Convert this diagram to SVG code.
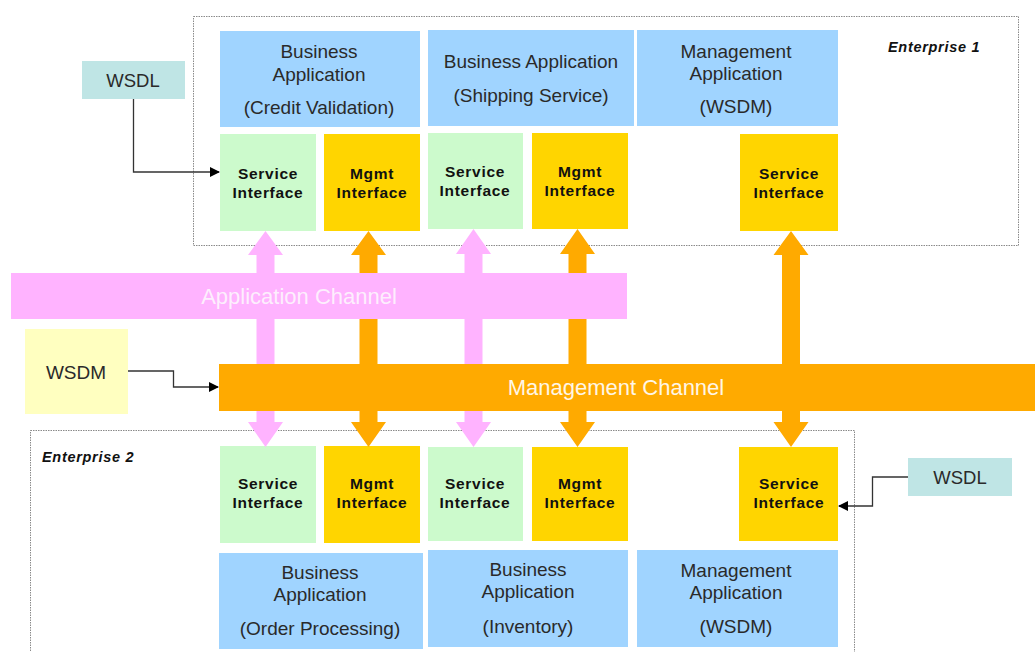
<svg xmlns="http://www.w3.org/2000/svg" width="1035" height="652" viewBox="0 0 1035 652">
<style>
.ent{fill:#fff;stroke:#8a8a8a;stroke-width:1;stroke-dasharray:1.5,1}
.app{fill:#a0d4ff}
.si{fill:#ccfacc}
.mi{fill:#ffd500}
.wsdl{fill:#bfe5e5}
.wsdm{fill:#ffffc0}
.t{font-family:"Liberation Sans",Arial,sans-serif;font-size:19px;fill:#2a2a2a;text-anchor:middle}
.b{font-family:"Liberation Sans",Arial,sans-serif;font-size:15.5px;font-weight:bold;fill:#111;text-anchor:middle;letter-spacing:0.7px}
.el{font-family:"Liberation Sans",Arial,sans-serif;font-size:14.5px;font-weight:bold;font-style:italic;fill:#111;letter-spacing:0.7px}
.ch{font-family:"Liberation Sans",Arial,sans-serif;font-size:22px;text-anchor:middle}
.pk{fill:#ffb3ff}
.og{fill:#ffaa00}
.ln{fill:none;stroke:#333;stroke-width:1.3}
</style>
<defs>
<marker id="ah" markerWidth="10" markerHeight="10" refX="9" refY="5" orient="auto" markerUnits="userSpaceOnUse">
<path d="M0,0 L10,5 L0,10 z" fill="#000"/>
</marker>
</defs>
<rect width="1035" height="652" fill="#fff"/>

<g id="enterprise1">
<rect class="ent" x="193.5" y="16.5" width="825" height="229"/>
<text class="el" x="888" y="52">Enterprise 1</text>
</g>
<g id="enterprise2">
<rect class="ent" x="30.5" y="430.5" width="824" height="240"/>
<text class="el" x="42" y="462">Enterprise 2</text>
</g>

<g id="app-credit">
<rect class="app" x="220" y="31" width="200" height="96"/>
<text class="t" x="319" y="58">Business</text>
<text class="t" x="319" y="81">Application</text>
<text class="t" x="319" y="114">(Credit Validation)</text>
</g>
<g id="app-shipping">
<rect class="app" x="428" y="30" width="206" height="96"/>
<text class="t" x="531" y="68">Business Application</text>
<text class="t" x="531" y="102">(Shipping Service)</text>
</g>
<g id="mgmt-app-1">
<rect class="app" x="637" y="30" width="201" height="96"/>
<text class="t" x="736" y="58">Management</text>
<text class="t" x="736" y="80">Application</text>
<text class="t" x="736" y="113">(WSDM)</text>
</g>

<g id="si-1a">
<rect class="si" x="220" y="134" width="96" height="97"/>
<text class="b" x="268" y="179">Service</text>
<text class="b" x="268" y="198">Interface</text>
</g>
<g id="mi-1a">
<rect class="mi" x="324" y="134" width="96" height="97"/>
<text class="b" x="372" y="179">Mgmt</text>
<text class="b" x="372" y="198">Interface</text>
</g>
<g id="si-1b">
<rect class="si" x="428" y="133" width="95" height="96"/>
<text class="b" x="475" y="177">Service</text>
<text class="b" x="475" y="196">Interface</text>
</g>
<g id="mi-1b">
<rect class="mi" x="532" y="133" width="96" height="96"/>
<text class="b" x="580" y="177">Mgmt</text>
<text class="b" x="580" y="196">Interface</text>
</g>
<g id="si-1c">
<rect class="mi" x="740" y="134" width="98" height="97"/>
<text class="b" x="789" y="179">Service</text>
<text class="b" x="789" y="198">Interface</text>
</g>

<g id="si-2a">
<rect class="si" x="220" y="446" width="96" height="97"/>
<text class="b" x="268" y="489">Service</text>
<text class="b" x="268" y="508">Interface</text>
</g>
<g id="mi-2a">
<rect class="mi" x="324" y="446" width="96" height="97"/>
<text class="b" x="372" y="489">Mgmt</text>
<text class="b" x="372" y="508">Interface</text>
</g>
<g id="si-2b">
<rect class="si" x="428" y="447" width="95" height="94"/>
<text class="b" x="475" y="489">Service</text>
<text class="b" x="475" y="508">Interface</text>
</g>
<g id="mi-2b">
<rect class="mi" x="532" y="447" width="96" height="94"/>
<text class="b" x="580" y="489">Mgmt</text>
<text class="b" x="580" y="508">Interface</text>
</g>
<g id="si-2c">
<rect class="mi" x="739" y="447" width="99" height="94"/>
<text class="b" x="789" y="489">Service</text>
<text class="b" x="789" y="508">Interface</text>
</g>

<g id="app-order">
<rect class="app" x="219" y="553" width="204" height="96"/>
<text class="t" x="320" y="579">Business</text>
<text class="t" x="320" y="601">Application</text>
<text class="t" x="320" y="635">(Order Processing)</text>
</g>
<g id="app-inventory">
<rect class="app" x="428" y="550" width="200" height="97"/>
<text class="t" x="528" y="576">Business</text>
<text class="t" x="528" y="598">Application</text>
<text class="t" x="528" y="633">(Inventory)</text>
</g>
<g id="mgmt-app-2">
<rect class="app" x="637" y="550" width="201" height="97"/>
<text class="t" x="736" y="577">Management</text>
<text class="t" x="736" y="599">Application</text>
<text class="t" x="736" y="633">(WSDM)</text>
</g>

<g id="wsdl-1">
<rect class="wsdl" x="82" y="61" width="103" height="38"/>
<text class="t" x="133" y="87" style="font-size:18.5px">WSDL</text>
</g>
<g id="wsdl-2">
<rect class="wsdl" x="908" y="458" width="104" height="38"/>
<text class="t" x="960" y="484" style="font-size:18.5px">WSDL</text>
</g>
<g id="wsdm">
<rect class="wsdm" x="25" y="329" width="103" height="85"/>
<text class="t" x="76" y="379">WSDM</text>
</g>

<g id="connectors">
<polygon class="pk" points="265.5,231 283,255 274.5,255 274.5,422 283,422 265.5,447 248,422 256.5,422 256.5,255 248,255"/>
<polygon class="og" points="368.5,231 386,255 377.5,255 377.5,422 386,422 368.5,447 351,422 359.5,422 359.5,255 351,255"/>
<polygon class="pk" points="473.5,229 491,254 482.5,254 482.5,422 491,422 473.5,447 456,422 464.5,422 464.5,254 456,254"/>
<polygon class="og" points="577.5,229 595,254 586.5,254 586.5,422 595,422 577.5,447 560,422 568.5,422 568.5,254 560,254"/>
<polygon class="og" points="791,231 808.5,255 800,255 800,422 808.5,422 791,447 773.5,422 782,422 782,255 773.5,255"/>
<polyline class="ln" points="133.5,99 133.5,172 219,172" marker-end="url(#ah)"/>
<polyline class="ln" points="128,371 173.5,371 173.5,387 218,387" marker-end="url(#ah)"/>
<polyline class="ln" points="908,477 872.5,477 872.5,506 839,506" marker-end="url(#ah)"/>
</g>

<g id="application-channel">
<rect class="pk" x="11" y="273" width="616" height="46"/>
<text class="ch" x="299" y="304" fill="#fdeefd">Application Channel</text>
</g>
<g id="management-channel">
<rect class="og" x="219" y="364" width="816" height="47"/>
<text class="ch" x="616" y="395" fill="#fff6e6">Management Channel</text>
</g>
</svg>
